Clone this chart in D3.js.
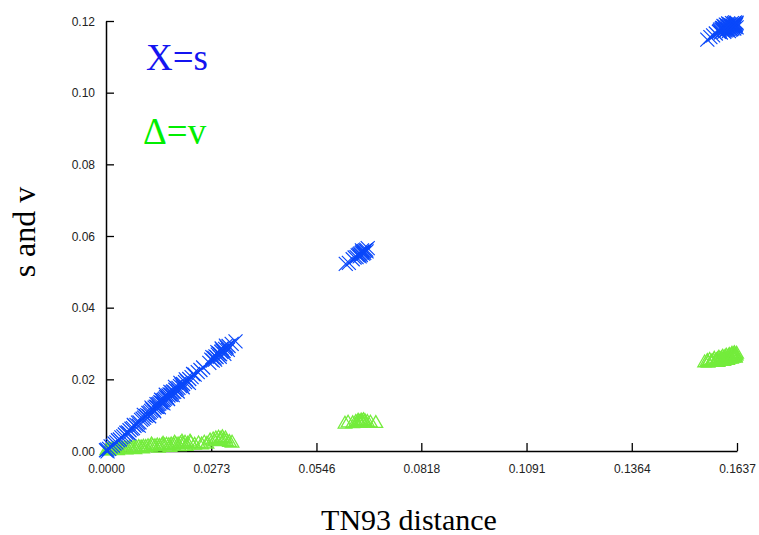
<!DOCTYPE html>
<html><head><meta charset="utf-8">
<script src="https://cdn.jsdelivr.net/npm/d3@7"></script>
<style>body{margin:0;background:#fff}svg{display:block}</style>
</head><body>
<script>
// distance (TN93), s values
const sPoints = [
[0.0000,0.0002],[0.0004,-0.0001],[0.0003,0.0004],[0.0008,0.0006],[0.0012,0.0013],[0.0018,0.0015],[0.0022,0.0021],[0.0027,0.0024],
[0.0031,0.0030],[0.0036,0.0032],[0.0040,0.0038],[0.0045,0.0041],[0.0049,0.0046],[0.0053,0.0051],[0.0057,0.0052],
[0.0061,0.0058],[0.0066,0.0062],[0.0070,0.0064],[0.0074,0.0070],[0.0079,0.0073],[0.0083,0.0079],[0.0087,0.0080],
[0.0091,0.0087],[0.0095,0.0090],[0.0099,0.0093],[0.0103,0.0098],[0.0107,0.0100],[0.0110,0.0106],[0.0114,0.0108],
[0.0117,0.0112],[0.0120,0.0116],[0.0123,0.0115],[0.0126,0.0121],[0.0129,0.0124],[0.0132,0.0123],[0.0135,0.0130],
[0.0138,0.0132],[0.0141,0.0136],[0.0144,0.0135],[0.0147,0.0141],[0.0150,0.0143],[0.0153,0.0146],[0.0156,0.0150],
[0.0159,0.0149],[0.0162,0.0155],[0.0165,0.0158],[0.0168,0.0157],[0.0171,0.0163],[0.0174,0.0166],[0.0177,0.0165],
[0.0180,0.0171],[0.0184,0.0174],[0.0188,0.0176],[0.0192,0.0181],[0.0196,0.0185],[0.0200,0.0187],[0.0205,0.0192],
[0.0210,0.0195],[0.0216,0.0201],[0.0222,0.0206],[0.0230,0.0213],[0.0238,0.0220],[0.0245,0.0226],[0.0252,0.0233],
[0.0268,0.0246],[0.0273,0.0255],[0.0277,0.0252],[0.0281,0.0260],[0.0284,0.0264],[0.0287,0.0262],[0.0290,0.0269],
[0.0293,0.0272],[0.0296,0.0270],[0.0299,0.0277],[0.0302,0.0280],[0.0305,0.0279],[0.0309,0.0285],[0.0313,0.0289],
[0.0318,0.0293],[0.0326,0.0299],[0.0336,0.0306],
[0.0060,0.0049],[0.0072,0.0073],[0.0085,0.0071],[0.0098,0.0101],[0.0112,0.0097],[0.0118,0.0121],[0.0125,0.0111],
[0.0131,0.0131],[0.0137,0.0122],[0.0143,0.0143],[0.0149,0.0133],[0.0155,0.0157],[0.0161,0.0145],[0.0167,0.0165],
[0.0173,0.0156],[0.0179,0.0179],[0.0186,0.0166],[0.0193,0.0190],[0.0199,0.0178],[0.0207,0.0200],[0.0215,0.0190],
[0.0226,0.0215],[0.0276,0.0262],[0.0283,0.0255],[0.0289,0.0276],[0.0295,0.0263],[0.0300,0.0286],[0.0307,0.0271],
[0.0311,0.0294],[0.0316,0.0282],
[0.0622,0.0522],[0.0630,0.0525],[0.0640,0.0535],[0.0645,0.0540],[0.0650,0.0541],[0.0653,0.0546],[0.0656,0.0548],
[0.0659,0.0551],[0.0661,0.0547],[0.0663,0.0553],[0.0665,0.0556],[0.0667,0.0551],[0.0669,0.0558],[0.0672,0.0560],
[0.0675,0.0562],[0.0679,0.0566],[0.0658,0.0543],[0.0664,0.0560],[0.0670,0.0553],[0.0676,0.0557],
[0.1560,0.1148],[0.1568,0.1155],[0.1575,0.1160],[0.1582,0.1165],[0.1590,0.1170],[0.1593,0.1176],[0.1595,0.1168],
[0.1598,0.1181],[0.1600,0.1174],[0.1602,0.1186],[0.1604,0.1170],[0.1606,0.1179],[0.1608,0.1190],[0.1610,0.1175],
[0.1612,0.1184],[0.1614,0.1193],[0.1616,0.1172],[0.1618,0.1181],[0.1620,0.1189],[0.1622,0.1177],[0.1624,0.1194],
[0.1626,0.1184],[0.1628,0.1191],[0.1630,0.1179],[0.1632,0.1196],[0.1633,0.1187],[0.1635,0.1192],[0.1636,0.1182],
[0.1592,0.1172],[0.1597,0.1177],[0.1601,0.1180],[0.1605,0.1184],[0.1609,0.1181],[0.1611,0.1188],[0.1613,0.1178],
[0.1615,0.1186],[0.1617,0.1191],[0.1619,0.1176],[0.1621,0.1184],[0.1623,0.1188],[0.1625,0.1179],[0.1627,0.1186],
[0.1629,0.1194],[0.1631,0.1184],[0.1634,0.1189],[0.1636,0.1195],[0.1603,0.1176],[0.1607,0.1173]
];
// distance (TN93), v values
const vPoints = [
[0.0002,0.0001],[0.0006,0.0002],[0.0010,0.0003],[0.0015,0.0002],[0.0019,0.0004],[0.0024,0.0003],[0.0029,0.0005],
[0.0034,0.0004],[0.0039,0.0006],[0.0044,0.0005],[0.0049,0.0007],[0.0055,0.0006],[0.0061,0.0008],[0.0067,0.0007],
[0.0073,0.0009],[0.0079,0.0008],[0.0085,0.0010],[0.0091,0.0009],[0.0097,0.0011],[0.0103,0.0010],[0.0109,0.0012],
[0.0115,0.0011],[0.0121,0.0013],[0.0127,0.0012],[0.0133,0.0014],[0.0139,0.0013],[0.0145,0.0015],[0.0151,0.0014],
[0.0157,0.0016],[0.0163,0.0015],[0.0169,0.0017],[0.0175,0.0016],[0.0181,0.0018],[0.0187,0.0017],[0.0193,0.0020],
[0.0199,0.0018],[0.0205,0.0022],[0.0212,0.0019],[0.0220,0.0021],[0.0240,0.0020],[0.0255,0.0022],[0.0270,0.0028],
[0.0278,0.0031],[0.0285,0.0034],[0.0292,0.0036],[0.0298,0.0033],[0.0305,0.0030],[0.0312,0.0027],[0.0320,0.0024],
[0.0327,0.0022],
[0.0008,0.0000],[0.0030,0.0001],[0.0052,0.0003],[0.0075,0.0004],[0.0095,0.0006],[0.0118,0.0017],[0.0136,0.0008],
[0.0148,0.0019],[0.0166,0.0010],[0.0178,0.0022],[0.0190,0.0012],[0.0197,0.0025],[0.0208,0.0013],[0.0218,0.0025],
[0.0230,0.0016],[0.0248,0.0017],[0.0262,0.0019],[0.0282,0.0026],[0.0295,0.0029],[0.0302,0.0037],[0.0310,0.0034],
[0.0620,0.0075],[0.0628,0.0078],[0.0640,0.0076],[0.0648,0.0080],[0.0654,0.0083],[0.0658,0.0079],[0.0662,0.0084],
[0.0665,0.0081],[0.0668,0.0085],[0.0672,0.0082],[0.0678,0.0080],[0.0686,0.0078],[0.0700,0.0077],
[0.0651,0.0077],[0.0656,0.0081],[0.0660,0.0077],[0.0664,0.0078],[0.0670,0.0079],
[0.1553,0.0246],[0.1560,0.0250],[0.1566,0.0253],[0.1572,0.0249],[0.1578,0.0256],[0.1584,0.0252],[0.1590,0.0259],
[0.1595,0.0255],[0.1600,0.0262],[0.1605,0.0258],[0.1609,0.0265],[0.1613,0.0260],[0.1617,0.0267],[0.1620,0.0262],
[0.1624,0.0270],[0.1627,0.0264],[0.1630,0.0272],[0.1633,0.0266],[0.1636,0.0270],[0.1598,0.0250],[0.1608,0.0253],
[0.1618,0.0256],[0.1628,0.0259],[0.1588,0.0247],
[0.1562,0.0245],[0.1570,0.0247],[0.1576,0.0251],[0.1582,0.0248],[0.1587,0.0255],[0.1592,0.0251],[0.1597,0.0258],
[0.1602,0.0255],[0.1606,0.0261],[0.1611,0.0257],[0.1615,0.0263],[0.1619,0.0259],[0.1622,0.0266],[0.1626,0.0261],
[0.1629,0.0268],[0.1632,0.0262],[0.1635,0.0265],[0.1603,0.0250],[0.1613,0.0253],[0.1623,0.0256],[0.1633,0.0259]
];
const xTicks = [0, 0.0273, 0.0546, 0.0818, 0.1091, 0.1364, 0.1637];
const yTicks = [0, 0.02, 0.04, 0.06, 0.08, 0.10, 0.12];
const xTitle = "TN93 distance";
const yTitle = "s and v";
const legendS = "X=s";
const legendV = "\u0394=v";

const W = 759, H = 535;
const svg = d3.select("body").append("svg").attr("width", W).attr("height", H);
const x = d3.scaleLinear().domain([0, 0.1637]).range([106, 737]);
const y = d3.scaleLinear().domain([0, 0.12]).range([451, 21]);

const xAxis = d3.axisBottom(x).tickValues(xTicks).tickFormat(d3.format(".4f")).tickSizeInner(-8).tickSizeOuter(0).tickPadding(13);
const yAxis = d3.axisLeft(y).tickValues(yTicks).tickFormat(d3.format(".2f")).tickSizeInner(-8).tickSizeOuter(0).tickPadding(11);

const gx = svg.append("g").attr("transform", "translate(0,451)").call(xAxis);
const gy = svg.append("g").attr("transform", "translate(106,0)").call(yAxis);
[gx, gy].forEach(g => {
  g.select(".domain").attr("stroke", "#000").attr("stroke-width", 1.5);
  g.selectAll(".tick line").attr("stroke", "#000").attr("stroke-width", 1.3);
  g.selectAll(".tick text").attr("fill", "#222").style("font-family", "'Liberation Sans', Arial, sans-serif").style("font-size", "12px");
});
gy.selectAll(".tick text").attr("dy", "0.35em");

// green triangles
const tri = d3.symbol().type(d3.symbolTriangle).size(80);
svg.append("g").selectAll("path").data(vPoints).join("path")
  .attr("d", tri)
  .attr("transform", d => `translate(${x(d[0])},${y(d[1])})`)
  .attr("fill", "none").attr("stroke", "#74ec3c").attr("stroke-width", 1.3);

// blue crosses
const cs = 7;
svg.append("g").selectAll("path").data(sPoints).join("path")
  .attr("d", d => {
    const cx = x(d[0]), cy = y(d[1]);
    return `M${cx-cs},${cy-cs}L${cx+cs},${cy+cs}M${cx-cs},${cy+cs}L${cx+cs},${cy-cs}`;
  })
  .attr("fill", "none").attr("stroke", "#0a48fa").attr("stroke-width", 1.2);

// legend
const serif = "'Liberation Serif', 'Times New Roman', serif";
svg.append("text").attr("x", 146).attr("y", 70).text(legendS)
  .style("font-family", serif).style("font-size", "37px").attr("fill", "#1414f0");
svg.append("text").attr("x", 143).attr("y", 144).text(legendV)
  .style("font-family", serif).style("font-size", "37px").attr("fill", "#00ee00");

// axis titles
svg.append("text").attr("x", 409).attr("y", 530).attr("text-anchor", "middle").text(xTitle)
  .style("font-family", serif).style("font-size", "30px").attr("fill", "#000");
svg.append("text").attr("transform", "translate(35,232) rotate(-90)").attr("text-anchor", "middle").text(yTitle)
  .style("font-family", serif).style("font-size", "32px").attr("fill", "#000");
</script>
</body></html>
